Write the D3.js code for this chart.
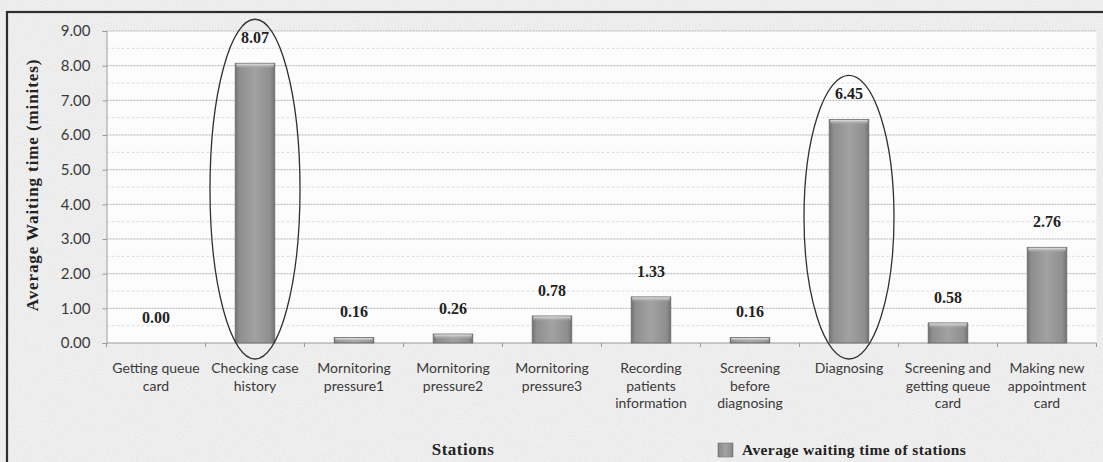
<!DOCTYPE html>
<html>
<head>
<meta charset="utf-8">
<script src="https://cdn.jsdelivr.net/npm/d3@7"></script>
<style>
  html, body { margin: 0; padding: 0; background: #f2f2f2; }
  svg { display: block; }
</style>
</head>
<body>
<svg id="chart" width="1103" height="462"></svg>
<script>
// Stations along the clinic flow (line breaks mark wrapped labels)
const categories = [
  "Getting queue\ncard",
  "Checking case\nhistory",
  "Mornitoring\npressure1",
  "Mornitoring\npressure2",
  "Mornitoring\npressure3",
  "Recording\npatients\ninformation",
  "Screening\nbefore\ndiagnosing",
  "Diagnosing",
  "Screening and\ngetting queue\ncard",
  "Making new\nappointment\ncard"
];
// Average waiting time per station (minutes)
const waitTimes = [0.00, 8.07, 0.16, 0.26, 0.78, 1.33, 0.16, 6.45, 0.58, 2.76];
// Y axis ticks
const yTicks = [0, 1, 2, 3, 4, 5, 6, 7, 8, 9];
// Stations singled out with an ellipse
const highlighted = ["Checking case\nhistory", "Diagnosing"];

const seriesName = "Average waiting time of stations";
const xTitle = "Stations";
const yTitle = "Average Waiting time (minites)";

const svg = d3.select("#chart");
const W = 1103, H = 462;
const plot = { left: 106.5, right: 1096.5, top: 31, bottom: 343 };

const x = d3.scaleBand()
  .domain(categories)
  .range([plot.left, plot.right])
  .paddingInner(0.6)
  .paddingOuter(0.3);

const y = d3.scaleLinear().domain([0, 9]).range([plot.bottom, plot.top]);

const defs = svg.append("defs");
const grad = defs.append("linearGradient").attr("id", "barGrad")
  .attr("x1", 0).attr("x2", 1).attr("y1", 0).attr("y2", 0);
grad.append("stop").attr("offset", "0%").attr("stop-color", "#707070");
grad.append("stop").attr("offset", "10%").attr("stop-color", "#8e8e8e");
grad.append("stop").attr("offset", "50%").attr("stop-color", "#a2a2a2");
grad.append("stop").attr("offset", "90%").attr("stop-color", "#8e8e8e");
grad.append("stop").attr("offset", "100%").attr("stop-color", "#707070");

const capGrad = defs.append("linearGradient").attr("id", "capGrad")
  .attr("x1", 0).attr("x2", 0).attr("y1", 0).attr("y2", 1);
capGrad.append("stop").attr("offset", "0%").attr("stop-color", "#e4e4e4");
capGrad.append("stop").attr("offset", "100%").attr("stop-color", "#a2a2a2").attr("stop-opacity", 0);

const grain = defs.append("filter").attr("id", "grain")
  .attr("x", 0).attr("y", 0).attr("width", 1).attr("height", 1);
grain.append("feTurbulence").attr("type", "fractalNoise")
  .attr("baseFrequency", 0.9).attr("numOctaves", 2).attr("seed", 3).attr("result", "n");
grain.append("feColorMatrix").attr("in", "n").attr("type", "matrix")
  .attr("values", "0 0 0 0 0.5  0 0 0 0 0.5  0 0 0 0 0.5  0 0 0 0.35 -0.1").attr("result", "g");
grain.append("feComposite").attr("in", "g").attr("in2", "SourceGraphic").attr("operator", "in");

// Page background and outer frame
svg.append("rect").attr("width", W).attr("height", H).attr("fill", "#f1f1f1");
svg.append("rect").attr("width", W).attr("height", H).attr("fill", "#ffffff").attr("filter", "url(#grain)");
svg.append("rect")
  .attr("x", 7).attr("y", 12).attr("width", W + 20).attr("height", H + 20)
  .attr("fill", "none").attr("stroke", "#2a2f2c").attr("stroke-width", 2.2);

// Plot area
svg.append("rect")
  .attr("x", plot.left).attr("y", plot.top)
  .attr("width", plot.right - plot.left).attr("height", plot.bottom - plot.top)
  .attr("fill", "#fcfcfc");

// Gridlines: whole minutes plus fainter half-minute lines
const minor = d3.range(0.5, 9, 1);
svg.append("g").selectAll("line").data(minor).join("line")
  .attr("x1", plot.left).attr("x2", plot.right)
  .attr("y1", d => y(d)).attr("y2", d => y(d))
  .attr("stroke", "#dedede").attr("stroke-width", 1).attr("stroke-dasharray", "3,2");
svg.append("g").selectAll("line").data(yTicks.filter(d => d > 0)).join("line")
  .attr("x1", plot.left).attr("x2", plot.right)
  .attr("y1", d => y(d)).attr("y2", d => y(d))
  .attr("stroke", "#b2b2b2").attr("stroke-width", 1).attr("stroke-dasharray", "2,1");

// Y axis
const yAxis = svg.append("g")
  .attr("transform", `translate(${plot.left},0)`)
  .call(d3.axisLeft(y).tickValues(yTicks).tickFormat(d3.format(".2f")).tickSize(4).tickPadding(12));
yAxis.select(".domain").attr("stroke", "#9a9a9a");
yAxis.selectAll(".tick line").attr("stroke", "#9a9a9a");
yAxis.selectAll("text")
  .attr("font-family", "Lato, 'Open Sans', sans-serif")
  .attr("font-size", 15).attr("fill", "#3a3a3a");

// X axis with ticks at category boundaries
svg.append("line")
  .attr("x1", plot.left).attr("x2", plot.right)
  .attr("y1", plot.bottom).attr("y2", plot.bottom)
  .attr("stroke", "#9a9a9a");
const boundaries = d3.range(categories.length + 1).map(i => plot.left + i * x.step());
svg.append("g").selectAll("line").data(boundaries).join("line")
  .attr("x1", d => d).attr("x2", d => d)
  .attr("y1", plot.bottom).attr("y2", plot.bottom + 4)
  .attr("stroke", "#9a9a9a");

// Category labels
const xLabels = svg.append("g")
  .attr("font-family", "Lato, 'Open Sans', sans-serif")
  .attr("font-size", 14).attr("fill", "#3a3a3a").attr("text-anchor", "middle");
categories.forEach(c => {
  const cx = x(c) + x.bandwidth() / 2;
  const t = xLabels.append("text").attr("x", cx).attr("y", 373);
  c.split("\n").forEach((line, i) => {
    t.append("tspan").attr("x", cx).attr("dy", i === 0 ? 0 : 17.5).text(line);
  });
});

// Bars
const data = categories.map((c, i) => ({ c, v: waitTimes[i] }));
const bars = svg.append("g");
bars.selectAll("rect.bar").data(data).join("rect")
  .attr("class", "bar")
  .attr("x", d => x(d.c)).attr("width", x.bandwidth())
  .attr("y", d => y(d.v)).attr("height", d => y(0) - y(d.v))
  .attr("fill", "url(#barGrad)")
  .attr("stroke", "#6a6a6a").attr("stroke-width", 0.8);
// Soft bevel along each bar top
bars.selectAll("rect.cap").data(data.filter(d => d.v > 0)).join("rect")
  .attr("class", "cap")
  .attr("x", d => x(d.c) + 1).attr("width", x.bandwidth() - 2)
  .attr("y", d => y(d.v) + 0.5).attr("height", d => Math.min(5, y(0) - y(d.v) - 1))
  .attr("fill", "url(#capGrad)");

// Value labels
svg.append("g").selectAll("text").data(data).join("text")
  .attr("x", d => x(d.c) + x.bandwidth() / 2)
  .attr("y", d => y(d.v) - 20)
  .attr("text-anchor", "middle")
  .attr("font-family", "'Liberation Serif', 'Times New Roman', serif")
  .attr("font-weight", "bold").attr("font-size", 16).attr("fill", "#222")
  .text(d => d3.format(".2f")(d.v));

// Ellipses around the longest waits
svg.append("g").selectAll("ellipse").data(data.filter(d => highlighted.includes(d.c))).join("ellipse")
  .attr("cx", d => x(d.c) + x.bandwidth() / 2)
  .attr("cy", d => ((y(d.v) - 44) + (y(0) + 16)) / 2)
  .attr("rx", 45)
  .attr("ry", d => ((y(0) + 16) - (y(d.v) - 44)) / 2)
  .attr("fill", "none").attr("stroke", "#2e3330").attr("stroke-width", 1.3);

// Axis titles
svg.append("text")
  .attr("transform", "translate(38,185) rotate(-90)")
  .attr("text-anchor", "middle")
  .attr("font-family", "'Liberation Serif', 'Times New Roman', serif")
  .attr("font-weight", "bold").attr("font-size", 17).attr("letter-spacing", 0.9).attr("fill", "#222")
  .text(yTitle);
svg.append("text")
  .attr("x", 463).attr("y", 455)
  .attr("text-anchor", "middle")
  .attr("font-family", "'Liberation Serif', 'Times New Roman', serif")
  .attr("font-weight", "bold").attr("font-size", 17).attr("letter-spacing", 0.5).attr("fill", "#222")
  .text(xTitle);

// Legend
const legend = svg.append("g").attr("transform", "translate(718,443)");
legend.append("rect").attr("width", 15).attr("height", 14)
  .attr("fill", "url(#barGrad)").attr("stroke", "#777").attr("stroke-width", 0.6);
legend.append("text").attr("x", 24).attr("y", 12)
  .attr("font-family", "'Liberation Serif', 'Times New Roman', serif")
  .attr("font-weight", "bold").attr("font-size", 15.5).attr("letter-spacing", 0.4).attr("fill", "#222")
  .text(seriesName);
</script>
</body>
</html>
